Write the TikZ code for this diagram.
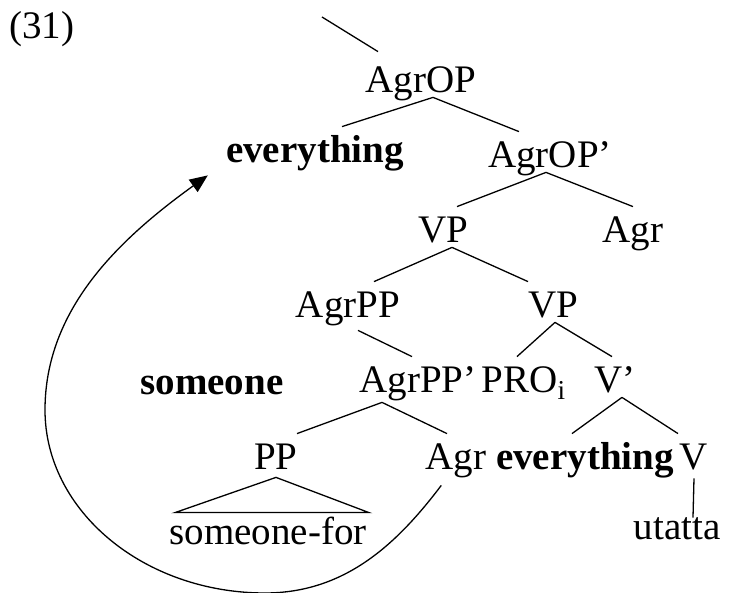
\documentclass[tikz,border=0pt]{standalone}
\usepackage{fontspec}
\setmainfont{Liberation Serif}
\usepackage{tikz}
\usetikzlibrary{arrows.meta}
\tikzstyle{cat}=[inner sep=0pt,text height=18pt,text depth=2pt,anchor=base,
font=\fontsize{19.5}{22}\selectfont]
\tikzstyle{word}=[cat,font=\fontsize{19.5}{22}\selectfont\bfseries]
\tikzstyle{branch}=[line width=0.65pt]
\begin{document}
\begin{tikzpicture}[x=0.5pt,y=-0.5pt]
			\useasboundingbox (0,0) rectangle (741,593);
			\node[cat] (ex) at (42,39) {(31)};

			% upper part
			\coordinate (top) at (322,17);
			\node[cat] (agrop) at (421,93) {AgrOP};
			\node[word] (ev1) at (315,163) {everything};
			\node[cat] (agrop1) at (550,168) {AgrOP'};
			\node[cat] (vp) at (443,243) {VP};
			\node[cat] (agr) at (633,243) {Agr};

			\path[branch] (top) edge ([xshift=-21.5pt,yshift=2.5pt]agrop.north);
			\path[branch] ([xshift=6pt]agrop.south) edge ([xshift=13.5pt]ev1.north);
			\path[branch] ([xshift=6pt]agrop.south) edge ([xshift=-15.5pt]agrop1.north);
			\path[branch] ([xshift=-2pt]agrop1.south) edge ([xshift=7pt]vp.north);
			\path[branch] ([xshift=-2pt]agrop1.south) edge (agr.north);

			% middle part
			\node[cat] (agrpp) at (348,318) {AgrPP};
			\node[cat] (vp2) at (553,318) {VP};
			\node[word] (so) at (212,395) {someone};
			\node[cat] (agrpp1) at (418,393) {AgrPP'};
			\node[cat] (pro) at (524,393) {PRO\textsubscript{i}};
			\node[cat] (v1) at (615,393) {V'};

			\path[branch] ([xshift=4.5pt]vp.south) edge ([xshift=13pt]agrpp.north);
			\path[branch] ([xshift=4.5pt]vp.south) edge ([xshift=-12.5pt]vp2.north);
			\path[branch] ([xshift=5pt,yshift=-4pt]agrpp.south) edge ([xshift=-3pt]agrpp1.north);
			\path[branch] ([xshift=1pt]vp2.south) edge ([xshift=-3.5pt]pro.north);
			\path[branch] ([xshift=1pt]vp2.south) edge ([xshift=-1.5pt]v1.north);

			% lower part
			\node[cat] (pp) at (276,470) {PP};
			\node[cat] (agr2) at (456,470) {Agr};
			\node[word] (ev2) at (585,470) {everything};
			\node[cat] (v) at (694,470) {V};
			\node[cat] (sf) at (268,545) {someone-for};
			\node[cat] (ut) at (677,540) {utatta};

			\path[branch] ([xshift=-18pt,yshift=-2.5pt]agrpp1.south) edge ([xshift=10.5pt]pp.north);
			\path[branch] ([xshift=-18pt,yshift=-2.5pt]agrpp1.south) edge ([xshift=-4.5pt]agr2.north);
			\path[branch] ([xshift=3.5pt]v1.south) edge ([xshift=-6.5pt]ev2.north);
			\path[branch] ([xshift=3.5pt]v1.south) edge ([xshift=-8pt]v.north);
			\path[branch] ([yshift=-2pt]v.south) edge ([xshift=8pt,yshift=-7pt]ut.north);
			\draw[branch] ([yshift=-1.5pt]pp.south) -- ([xshift=3pt,yshift=-2pt]sf.north west)
				-- ([xshift=1pt,yshift=-2pt]sf.north east) -- cycle;

			% movement
			\draw[branch,-{Triangle[length=9pt,width=7.5pt]}]
				([xshift=8pt,yshift=-5.5pt]agr2.south west)
				.. controls (397,544) and (345,593) .. (265,593)
				.. controls (144,593) and (45,511) .. (45,410)
				.. controls (45,310) and (118,240) .. ([xshift=-9pt,yshift=-4pt]ev1.south west);
		\end{tikzpicture}
\end{document}
